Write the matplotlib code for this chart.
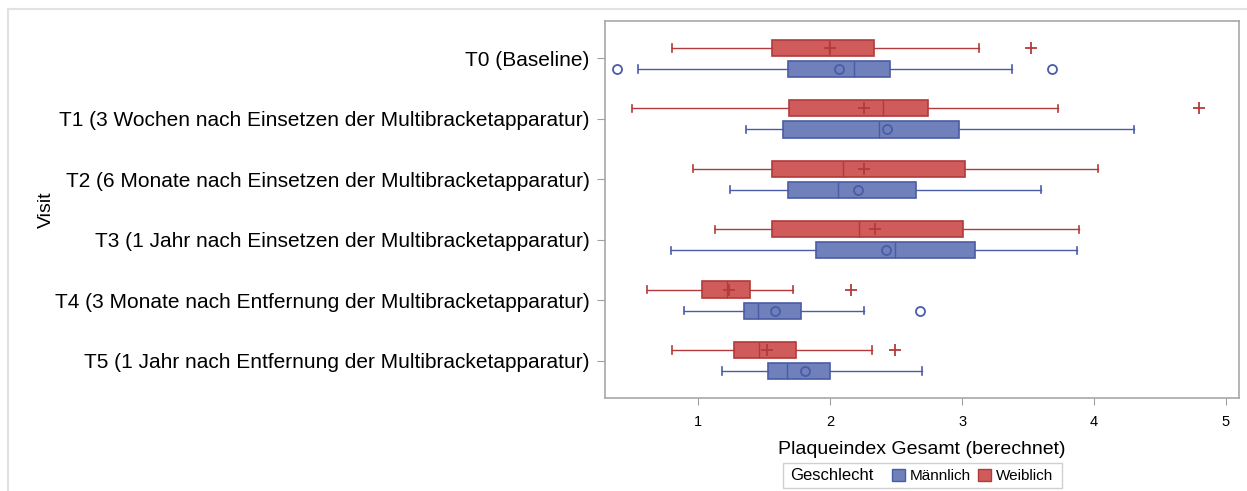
import matplotlib
matplotlib.use("Agg")
import matplotlib.pyplot as plt
from matplotlib.patches import Patch, Rectangle

plt.rcParams["font.family"] = ["Liberation Sans", "DejaVu Sans"]

# ── Data ──────────────────────────────────────────────────────
visits = [
    "T0 (Baseline)",
    "T1 (3 Wochen nach Einsetzen der Multibracketapparatur)",
    "T2 (6 Monate nach Einsetzen der Multibracketapparatur)",
    "T3 (1 Jahr nach Einsetzen der Multibracketapparatur)",
    "T4 (3 Monate nach Entfernung der Multibracketapparatur)",
    "T5 (1 Jahr nach Entfernung der Multibracketapparatur)",
]

# Weiblich (red)
w_whislo = [0.80, 0.50, 0.96, 1.13, 0.61, 0.80]
w_q1 = [1.56, 1.69, 1.56, 1.56, 1.03, 1.27]
w_med = [1.99, 2.40, 2.10, 2.22, 1.22, 1.46]
w_mean = [2.00, 2.26, 2.26, 2.34, 1.23, 1.52]
w_q3 = [2.33, 2.74, 3.02, 3.01, 1.39, 1.74]
w_whishi = [3.13, 3.73, 4.03, 3.885, 1.72, 2.32]
w_fliers = [[3.52], [4.80], [], [], [2.16], [2.495]]

# Männlich (blue)
m_whislo = [0.54, 1.36, 1.24, 0.79, 0.89, 1.18]
m_q1 = [1.68, 1.64, 1.68, 1.89, 1.35, 1.53]
m_med = [2.18, 2.37, 2.06, 2.49, 1.45, 1.67]
m_mean = [2.07, 2.43, 2.21, 2.42, 1.58, 1.81]
m_q3 = [2.45, 2.98, 2.65, 3.10, 1.78, 2.00]
m_whishi = [3.38, 4.30, 3.60, 3.875, 2.26, 2.70]
m_fliers = [[0.38, 3.68], [], [], [], [2.68], []]

RED_FILL, RED_EDGE = "#d05b5b", "#b33a3a"
BLUE_FILL, BLUE_EDGE = "#6f80ba", "#4a5ca6"


def make_stats(lo, q1, med, mean, q3, hi, fl):
    return [
        {"whislo": a, "q1": b, "med": c, "mean": d, "q3": e, "whishi": f, "fliers": g}
        for a, b, c, d, e, f, g in zip(lo, q1, med, mean, q3, hi, fl)
    ]


def draw(ax, stats, positions, fill, edge, marker, msize):
    ax.bxp(
        stats,
        positions=positions,
        orientation="horizontal",
        widths=0.27,
        patch_artist=True,
        showmeans=True,
        boxprops=dict(facecolor=fill, edgecolor=edge, linewidth=1.2),
        medianprops=dict(color=edge, linewidth=1.0),
        whiskerprops=dict(color=edge, linewidth=1.0),
        capprops=dict(color=edge, linewidth=1.2),
        capwidths=0.12,
        meanprops=dict(marker=marker, markeredgecolor=edge, markerfacecolor="none",
                       markersize=msize, markeredgewidth=1.3),
        flierprops=dict(marker=marker, markeredgecolor=edge, markerfacecolor="none",
                        markersize=msize, markeredgewidth=1.3),
        manage_ticks=False,
    )


fig = plt.figure(figsize=(12.47, 4.91), dpi=100)
ax = fig.add_axes([0.4852, 0.1894, 0.5084, 0.7678])

ypos = list(range(len(visits)))
off = 0.175
draw(ax, make_stats(w_whislo, w_q1, w_med, w_mean, w_q3, w_whishi, w_fliers),
     [y - off for y in ypos], RED_FILL, RED_EDGE, "+", 9)
draw(ax, make_stats(m_whislo, m_q1, m_med, m_mean, m_q3, m_whishi, m_fliers),
     [y + off for y in ypos], BLUE_FILL, BLUE_EDGE, "o", 6.5)

ax.set_xlim(0.293, 5.1)
ax.set_ylim(len(visits) - 0.38, -0.62)
ax.set_xticks([1, 2, 3, 4, 5])
ax.set_yticks(ypos, visits, fontsize=15)
ax.tick_params(axis="x", labelsize=10.5, length=5, color="#a0a0a0", pad=7)
ax.tick_params(axis="y", length=6, color="#a0a0a0", pad=5)
for sp in ax.spines.values():
    sp.set_color("#a8a8a8")
    sp.set_linewidth(1.2)

ax.set_xlabel("Plaqueindex Gesamt (berechnet)", fontsize=14, labelpad=9)
ax.set_ylabel("Visit", fontsize=14, labelpad=0)

# light outer frame of the screenshot
fig.add_artist(plt.Line2D([0.0064, 0.0064], [0.0, 0.982], transform=fig.transFigure,
                          color="#e2e2e2", linewidth=1.5))
fig.add_artist(plt.Line2D([0.0064, 1.0], [0.982, 0.982], transform=fig.transFigure,
                          color="#e2e2e2", linewidth=1.5))

# legend: "Geschlecht" title inline with the two entries
fig.add_artist(Rectangle((0.628, 0.006), 0.224, 0.051, transform=fig.transFigure,
                         facecolor="white", edgecolor="#d0d0d0", linewidth=1.0))
fig.text(0.634, 0.031, "Geschlecht", fontsize=12, va="center", ha="left")
handles = [Patch(facecolor=BLUE_FILL, edgecolor=BLUE_EDGE, label="Männlich"),
           Patch(facecolor=RED_FILL, edgecolor=RED_EDGE, label="Weiblich")]
fig.legend(handles=handles, loc="center left", bbox_to_anchor=(0.709, 0.031), ncol=2,
           frameon=False, fontsize=11, handlelength=0.85, handleheight=0.85,
           handletextpad=0.3, columnspacing=0.5, borderpad=0.0)

fig.savefig("out.png", dpi=100)
